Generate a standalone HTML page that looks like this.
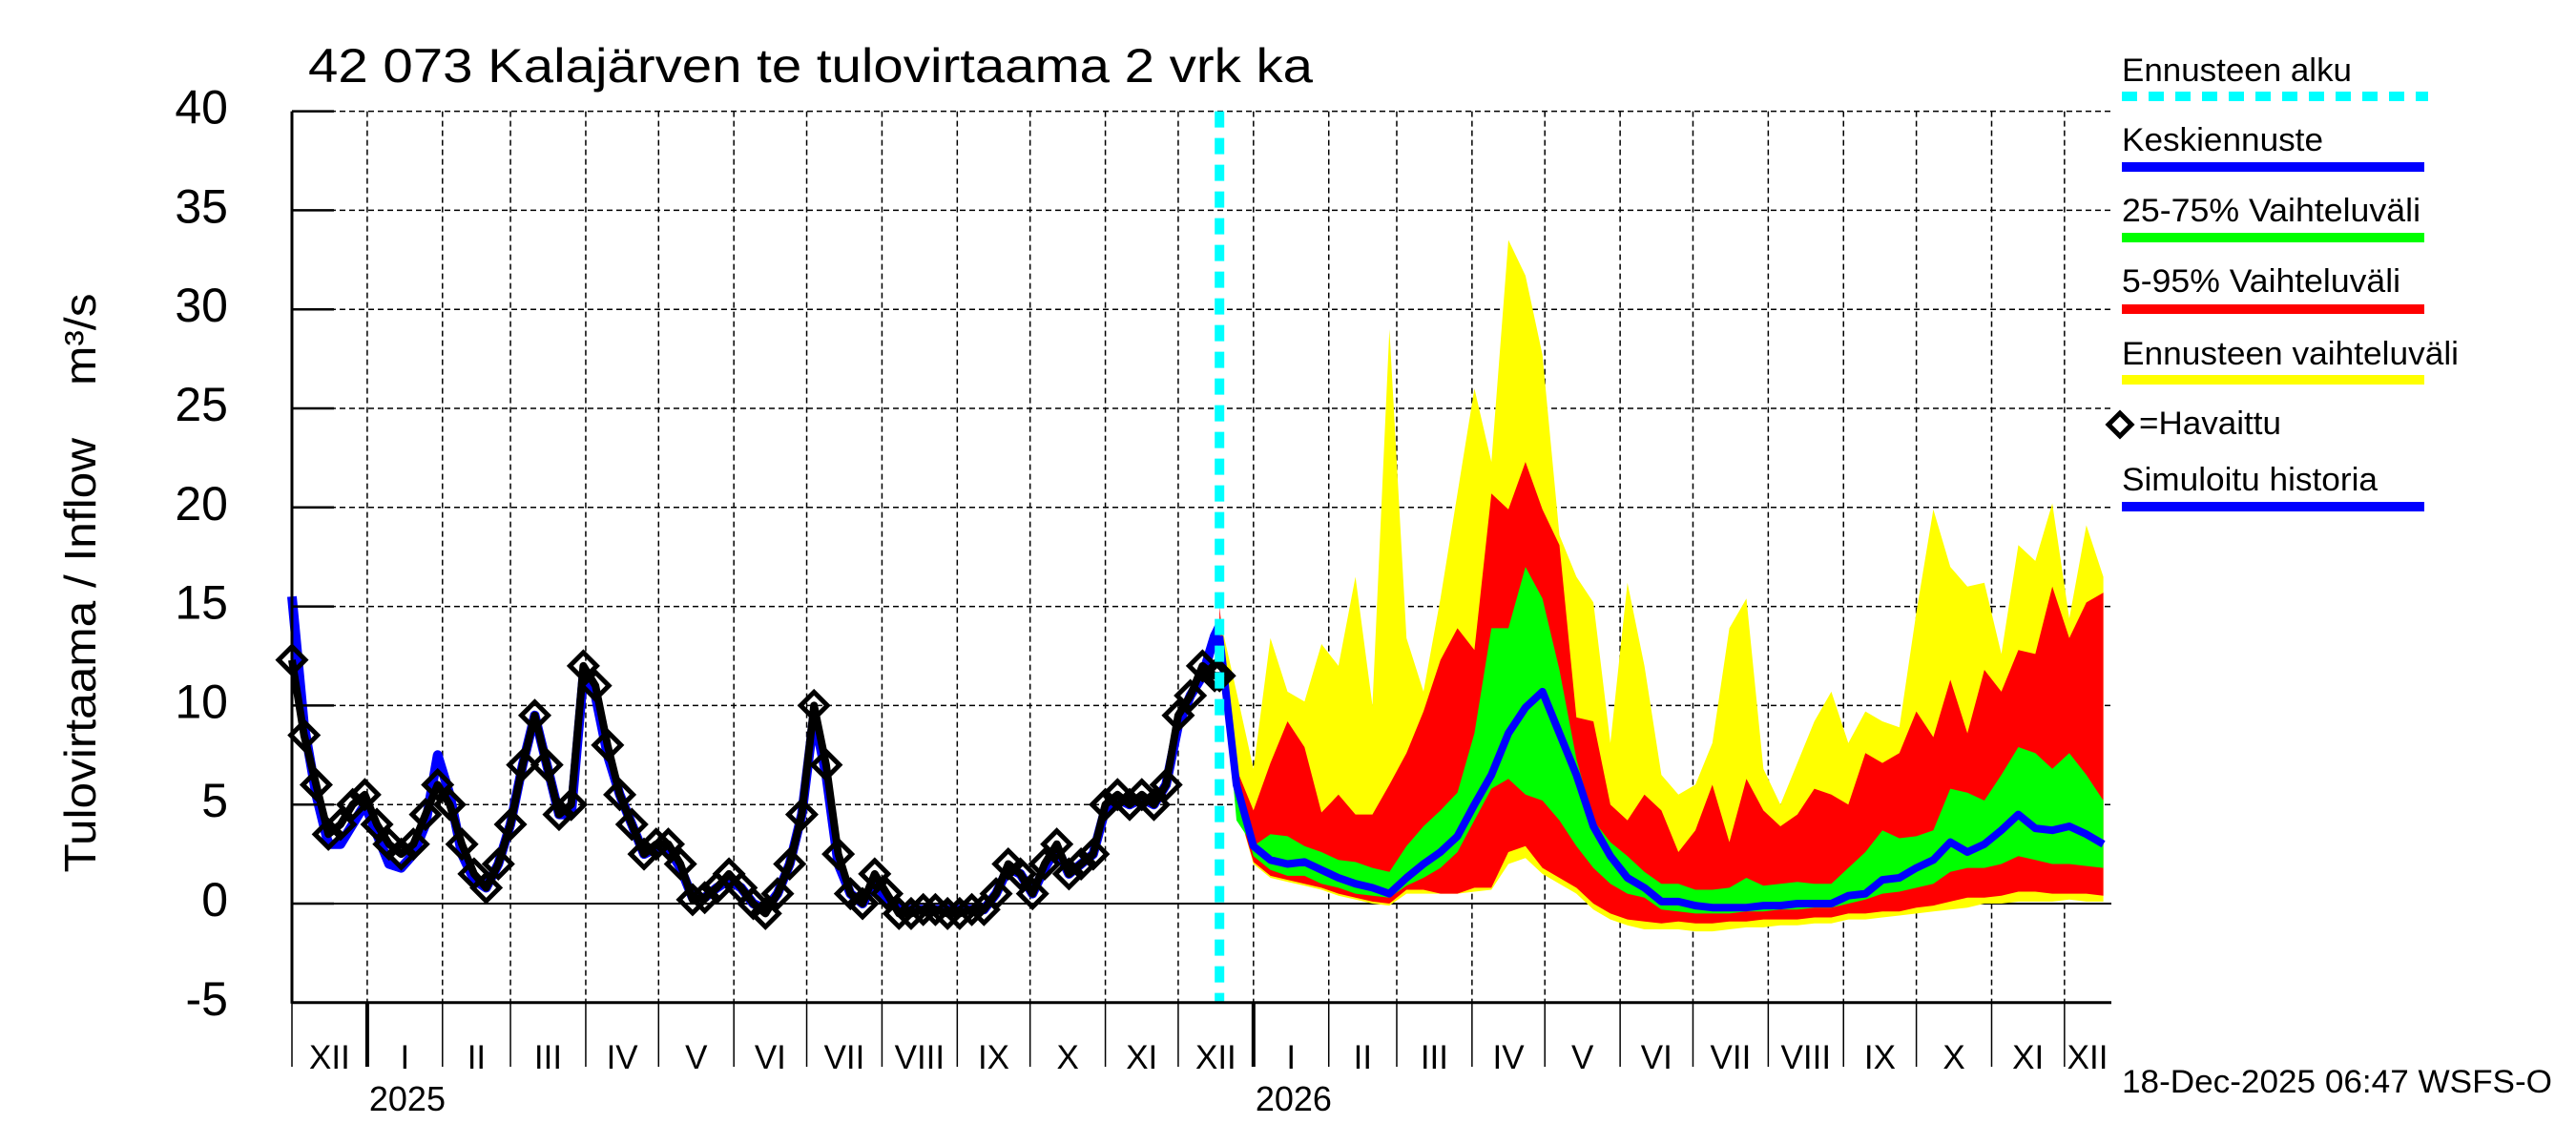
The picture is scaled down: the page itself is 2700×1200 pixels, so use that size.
<!DOCTYPE html>
<html><head><meta charset="utf-8"><style>
html,body{margin:0;padding:0;background:#fff;}
svg{display:block;font-family:"Liberation Sans",sans-serif;}
</style></head><body>
<svg id="chart" xmlns="http://www.w3.org/2000/svg" width="2700" height="1200" viewBox="0 0 2700 1200">
<rect x="0" y="0" width="2700" height="1200" fill="#fff"/>
<g id="grid"></g>
<g id="bands"></g>
<g id="series"></g>
<g id="axes"></g>
<text x="323" y="86" font-size="50" textLength="1053" lengthAdjust="spacingAndGlyphs">42 073 Kalajärven te tulovirtaama 2 vrk ka</text>
<text transform="translate(100,611) rotate(-90)" text-anchor="middle" font-size="46" textLength="607" lengthAdjust="spacingAndGlyphs" xml:space="preserve">Tulovirtaama / Inflow    m³/s</text>
<g font-size="34">
<text x="2224" y="85" textLength="241" lengthAdjust="spacingAndGlyphs">Ennusteen alku</text>
<line x1="2224" y1="101" x2="2545" y2="101" stroke="#00ffff" stroke-width="10" stroke-dasharray="16 12"/>
<text x="2224" y="158" textLength="211" lengthAdjust="spacingAndGlyphs">Keskiennuste</text>
<line x1="2224" y1="175" x2="2541" y2="175" stroke="#0000ff" stroke-width="10"/>
<text x="2224" y="232" textLength="313" lengthAdjust="spacingAndGlyphs">25-75% Vaihteluväli</text>
<line x1="2224" y1="249" x2="2541" y2="249" stroke="#00ff00" stroke-width="10"/>
<text x="2224" y="306" textLength="292" lengthAdjust="spacingAndGlyphs">5-95% Vaihteluväli</text>
<line x1="2224" y1="324" x2="2541" y2="324" stroke="#ff0000" stroke-width="10"/>
<text x="2224" y="382" textLength="353" lengthAdjust="spacingAndGlyphs">Ennusteen vaihteluväli</text>
<line x1="2224" y1="398" x2="2541" y2="398" stroke="#ffff00" stroke-width="10"/>
<polygon points="2222,433 2234,445 2222,457 2210,445" fill="none" stroke="#000" stroke-width="5"/>
<text x="2242" y="455" textLength="149" lengthAdjust="spacingAndGlyphs">=Havaittu</text>
<text x="2224" y="514" textLength="268" lengthAdjust="spacingAndGlyphs">Simuloitu historia</text>
<line x1="2224" y1="531" x2="2541" y2="531" stroke="#0000ff" stroke-width="10"/>
</g>
<text x="2224" y="1145" font-size="34" textLength="451" lengthAdjust="spacingAndGlyphs">18-Dec-2025 06:47 WSFS-O</text>
</svg>
<script>
// ---- data ----
const yTicks = [-5,0,5,10,15,20,25,30,35,40];
const monthStarts = [0,31,62,90,121,151,182,212,243,274,304,335,365,396,427,455,486,516,547,577,608,639,669,700,730];
const monthLabels = ["XII","I","II","III","IV","V","VI","VII","VIII","IX","X","XI","XII","I","II","III","IV","V","VI","VII","VIII","IX","X","XI","XII"];
const yearLabels = ["2025","2026"];
const yearStarts = [31,396];
const forecastStartDay = 382;
const endDay = 749;
const obsDays = [0,5,10,15,20,25,30,35,40,45,50,55,60,65,70,75,80,85,90,95,100,105,110,115,120,125,130,135,140,145,150,155,160,165,170,175,180,185,190,195,200,205,210,215,220,225,230,235,240,245,250,255,260,265,270,275,280,285,290,295,300,305,310,315,320,325,330,335,340,345,350,355,360,365,370,375,380,382];
const obsVals = [12.3,8.5,6,3.5,4,5,5.5,4,3,2.5, 3,4.5,6,5,3,1.5,0.8,2,4,7, 9.5,7,4.5,5,12,11,8,5.5,4,2.5, 3,3,2,0.2,0.3,0.8,1.5,0.8,0,-0.5, 0.5,2,4.5,10,7,2.5,0.5,0,1.5,0.5, -0.5,-0.5,-0.3,-0.3,-0.5,-0.5,-0.3,-0.3,0.5,2, 1.5,0.5,2,3,1.5,2,2.5,5,5.5,5, 5.5,5,6,9.5,10.5,12,11.5,11.5];
const simVals = [15.5,9,5.5,3,3,4,5,3.5,2,1.8, 2.5,4,7.5,5.5,2.5,1.2,0.8,2,4,7, 9.5,7,4.5,4.5,11.5,10.5,7.5,5.5,4,2.5, 2.8,2.8,1.8,0.3,0.3,0.8,1.2,0.8,0,-0.3, 0.5,2,4.5,9.5,6.5,2,0.5,0,1,0.3, -0.3,-0.3,-0.3,-0.3,-0.3,-0.3,-0.3,-0.3,0.5,1.8, 1.5,0.5,1.8,2.8,1.5,2,2.5,4.8,5.3,5, 5.3,5,6,9,10.5,11.5,13.5,14];
const fcDays = [382,389,396,403,410,417,424,431,438,445,452,459,466,473,480,487,494,501,508,515,522,529,536,543,550,557,564,571,578,585,592,599,606,613,620,627,634,641,648,655,662,669,676,683,690,697,704,711,718,725,732,739,746];
const fcMax = [14.5,10.7,6.8,13.4,10.7,10.2,13.1,12,16.5,10,29,13.4,10.7,15.4,20.7,26,22.3,33.5,31.7,27.7,18.6,16.5,15.2,8.1,16.2,12,6.5, 5.5,6,8.1,13.9,15.4,6.8,5,7.1,9.2,10.7,8.1,9.7,9.2,8.9,14.7,19.9,17,16,16.2,12.6,18.1,17.3,20.2,14.4,19.1,16.5];
const fcP95 = [15,6.8,4.7,7.1,9.2,7.9,4.6,5.5,4.5,4.5,6,7.6,9.7,12.3,13.9,12.8,20.7,19.9,22.3,19.9,18.1,9.4,9.2,5,4.2,5.5,4.7, 2.6,3.7,6,3.1,6.3,4.7,3.9,4.5,5.8,5.5,5,7.6,7.1,7.6,9.7,8.4,11.3,8.6,11.8,10.7,12.8,12.6,16,13.4,15.2,15.7];
const fcP75 = [14,4.2,2.9,3.5,3.4,2.9,2.6,2.2,2.1,1.8,1.6,2.9,3.9,4.7,5.6,8.6,13.9,13.9,17,15.4,11.8,7.3,4.2,3.1,2.4,1.6,1.0, 1.0,0.7,0.7,0.8,1.3,0.9,1.0,1.1,1.0,1.0,1.8,2.6,3.7,3.3,3.4,3.7,5.8,5.6,5.2,6.5,7.9,7.6,6.8,7.6,6.5,5.2];
const fcMedian = [13.5,6,2.9,2.2,2.0,2.1,1.7,1.3,1.0,0.8,0.5,1.3,2.0,2.6,3.4,5,6.5,8.6,9.9,10.7,8.6,6.5,3.9,2.4,1.3,0.8,0.1, 0.1,-0.1,-0.2,-0.2,-0.2,-0.1,-0.1,0,0,0,0.4,0.5,1.2,1.3,1.8,2.2,3.1,2.6,3.0,3.7,4.5,3.8,3.7,3.9,3.5,3.0];
const fcP25 = [13,5.5,2.4,1.7,1.4,1.4,1.0,0.8,0.5,0.4,0.3,0.9,1.3,1.8,2.6,4.2,5.8,6.3,5.5,5.2,4.2,2.9,1.8,1.0,0.5,0.3,-0.3, -0.4,-0.5,-0.5,-0.5,-0.4,-0.4,-0.3,-0.3,-0.2,-0.2,0,0.2,0.5,0.6,0.8,1.0,1.6,1.8,1.8,2.0,2.4,2.2,2.0,2.0,1.9,1.8];
const fcP5 = [13,5,2.1,1.4,1.2,1.0,0.8,0.5,0.3,0.1,0,0.7,0.7,0.5,0.5,0.8,0.8,2.6,2.9,1.8,1.3,0.8,0,-0.5,-0.8,-0.9,-1.0, -0.9,-1.0,-1.0,-0.9,-0.9,-0.8,-0.8,-0.8,-0.7,-0.7,-0.5,-0.5,-0.4,-0.4,-0.2,-0.1,0.1,0.3,0.3,0.4,0.6,0.6,0.5,0.5,0.5,0.4];
const fcMin = [13,5,2,1.3,1.1,0.9,0.7,0.4,0.2,0,-0.1,0.5,0.5,0.5,0.5,0.6,0.7,2.0,2.3,1.5,1.0,0.5,-0.3,-0.8,-1.1,-1.3,-1.3, -1.3,-1.4,-1.4,-1.3,-1.2,-1.2,-1.1,-1.1,-1.0,-1.0,-0.8,-0.8,-0.7,-0.6,-0.5,-0.4,-0.3,-0.2,0,0,0.1,0.1,0.1,0.2,0.1,0.1];

// ---- scales ----
const X0 = 306, PXD = 2.545, XR = 2213;
const xOf = d => X0 + d * PXD;
const yOf = v => 947 - v * 20.76;
const NS = "http://www.w3.org/2000/svg";
function mk(tag, parent, attrs){ const e = document.createElementNS(NS, tag); for (const k in attrs) e.setAttribute(k, attrs[k]); parent.appendChild(e); return e; }
const grid = document.getElementById('grid'), bands = document.getElementById('bands'), series = document.getElementById('series'), axes = document.getElementById('axes');

yTicks.forEach(v => {
  const y = yOf(v);
  if (v > -5) {
    const g = mk('line', grid, {x1:X0, x2:XR, y1:y, y2:y, stroke:'#000', 'stroke-width': v===0?2:1.5, 'stroke-dasharray': v===0?'none':'6 4'});
    
    
    const t = mk('line', axes, {x1:X0, x2:X0+44, y1:y, y2:y, stroke:'#000', 'stroke-width':2.5});
    
    
  }
  const lb = mk('text', axes, {x:239, y:y+13, 'text-anchor':'end', 'font-size':50});
  lb.textContent = String(v);
  
  
});

monthStarts.forEach((d, i) => {
  const x = xOf(d);
  if (d > 0) {
    const g = mk('line', grid, {x1:x, x2:x, y1:yOf(40), y2:yOf(-5), stroke:'#000', 'stroke-width':1.5, 'stroke-dasharray':'6 4'});
    
    
  }
  const isYear = yearStarts.includes(d);
  const tk = mk('line', axes, {x1:x, x2:x, y1:yOf(-5), y2:1118, stroke:'#000', 'stroke-width': isYear?4:1.5});
  
  
  const next = i+1 < monthStarts.length ? monthStarts[i+1] : endDay;
  const lb = mk('text', axes, {x:(x + xOf(next))/2, y:1120, 'text-anchor':'middle', 'font-size':35});
  lb.textContent = monthLabels[i];
  
  
});
yearStarts.forEach((d, i) => {
  const t = mk('text', axes, {x:xOf(d)+2, y:1164, 'font-size':36});
  t.textContent = yearLabels[i];
  
  
});
const ax1 = mk('line', axes, {x1:X0, x2:X0, y1:yOf(40), y2:yOf(-5)+1, stroke:'#000', 'stroke-width':3});


const ax2 = mk('line', axes, {x1:X0, x2:XR, y1:yOf(-5), y2:yOf(-5), stroke:'#000', 'stroke-width':3});



function band(top, bot, color, name){
  const pts = [];
  fcDays.forEach((d,i)=>pts.push(xOf(d).toFixed(1)+','+yOf(top[i]).toFixed(1)));
  for (let i = fcDays.length-1; i >= 0; i--) pts.push(xOf(fcDays[i]).toFixed(1)+','+yOf(bot[i]).toFixed(1));
  const p = mk('polygon', bands, {points: pts.join(' '), fill: color});
  
  
}
band(fcMax, fcMin, '#ffff00', 'forecast-range-band');
band(fcP95, fcP5, '#ff0000', 'band-5-95');
band(fcP75, fcP25, '#00ff00', 'band-25-75');

function poly(days, vals){ return days.map((d,i)=>xOf(d).toFixed(1)+','+yOf(vals[i]).toFixed(1)).join(' '); }
const sim = mk('polyline', series, {points: poly(obsDays, simVals), fill:'none', stroke:'#0000ff', 'stroke-width':10, 'stroke-linejoin':'round'});


const med = mk('polyline', series, {points: poly(fcDays, fcMedian), fill:'none', stroke:'#0000ff', 'stroke-width':8, 'stroke-linejoin':'round'});


const obsLine = mk('polyline', series, {points: poly(obsDays, obsVals), fill:'none', stroke:'#000', 'stroke-width':8, 'stroke-linejoin':'round'});


obsDays.forEach((d,i)=>{
  const x = xOf(d), y = yOf(obsVals[i]);
  const m = mk('polygon', series, {points: `${x},${y-14} ${x+14},${y} ${x},${y+14} ${x-14},${y}`, fill:'none', stroke:'#000', 'stroke-width':5});
  
  
});
const fl = mk('line', series, {x1:xOf(forecastStartDay), x2:xOf(forecastStartDay), y1:yOf(40), y2:yOf(-5), stroke:'#00ffff', 'stroke-width':10, 'stroke-dasharray':'17 11'});


</script>
</body></html>
